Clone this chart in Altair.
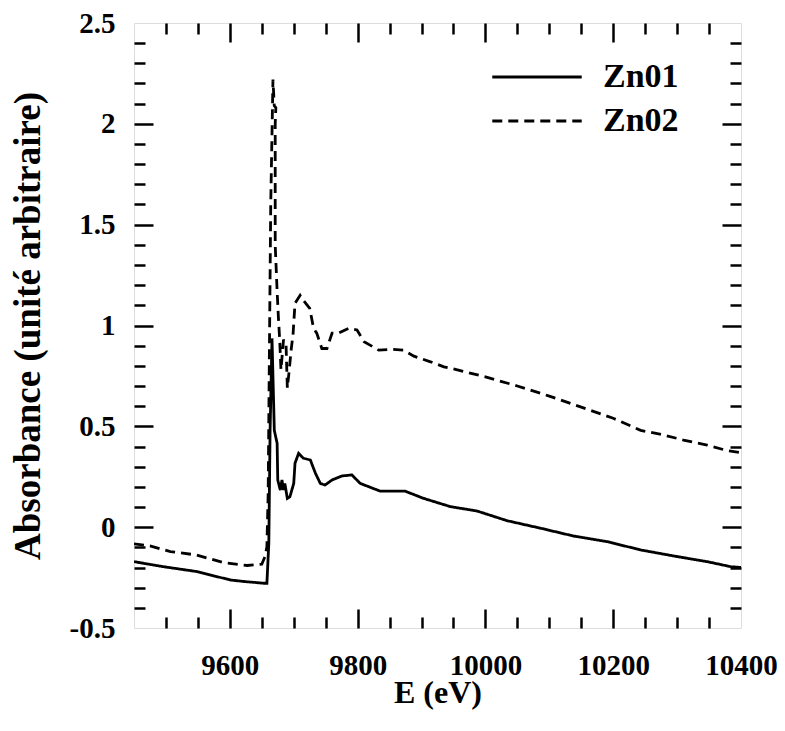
import altair as alt
import pandas as pd

# ---- data ----
zn01_E = [9450, 9496, 9548, 9601, 9624, 9653, 9658, 9661, 9663, 9666, 9669.6, 9674,
          9675, 9679, 9681.6, 9684, 9686, 9690, 9694, 9700, 9702, 9707.6, 9715, 9726,
          9734, 9741.6, 9749, 9760, 9775.6, 9791, 9804, 9835, 9874, 9903, 9945, 9987,
          10034, 10086, 10138, 10191, 10243, 10295, 10347, 10384, 10400]
zn01_A = [-0.171, -0.196, -0.22, -0.262, -0.27, -0.278, -0.278, -0.08, 0.48, 0.936, 0.48, 0.416,
          0.234, 0.184, 0.234, 0.184, 0.217, 0.143, 0.151, 0.217, 0.317, 0.366, 0.342, 0.333,
          0.267, 0.217, 0.209, 0.234, 0.254, 0.259, 0.217, 0.179, 0.179, 0.143, 0.102, 0.080,
          0.032, -0.005, -0.044, -0.072, -0.113, -0.143, -0.171, -0.196, -0.20]

zn02_E = [9450, 9475, 9507, 9548, 9590, 9627, 9650, 9655, 9658, 9660, 9662, 9664, 9667.5,
          9669.5, 9672, 9671, 9671, 9674, 9676, 9678, 9680, 9684, 9688, 9690, 9693, 9696,
          9699, 9702, 9710, 9715, 9725, 9731, 9736, 9744, 9752, 9760, 9770, 9786, 9799,
          9810, 9833, 9854, 9872, 9888, 9914, 9935, 9950, 10000, 10050, 10100, 10150,
          10200, 10243, 10279, 10310, 10347, 10379, 10400]
zn02_A = [-0.083, -0.093, -0.121, -0.138, -0.176, -0.19, -0.184, -0.146, -0.097, 0.17, 0.9, 1.6, 2.22,
          2.09, 2.08, 2.0, 1.4, 1.17, 1.04, 0.93, 0.78, 0.93, 0.90, 0.69, 0.78, 0.88,
          0.96, 1.11, 1.15, 1.125, 1.085, 0.987, 0.962, 0.886, 0.886, 0.962, 0.962, 0.986, 0.978,
          0.92, 0.878, 0.882, 0.878, 0.848, 0.82, 0.795, 0.785, 0.745, 0.70, 0.65, 0.595,
          0.54, 0.48, 0.457, 0.432, 0.407, 0.379, 0.37]

series_names = ["Zn01", "Zn02"]

x_labels = [9600, 9800, 10000, 10200, 10400]
x_major = [9600, 9800, 10000, 10200]
x_minor = [9500, 9550, 9650, 9700, 9750, 9850, 9900, 9950, 10050, 10100, 10150,
           10250, 10300, 10350]
y_labels = [-0.5, 0, 0.5, 1, 1.5, 2, 2.5]
y_major = [0, 0.5, 1, 1.5, 2]
y_minor = [-0.4, -0.3, -0.2, -0.1, 0.1, 0.2, 0.3, 0.4, 0.6, 0.7, 0.8, 0.9,
           1.1, 1.2, 1.3, 1.4, 1.6, 1.7, 1.8, 1.9, 2.1, 2.2, 2.3, 2.4]

rows = []
for name, es, vals in [("Zn01", zn01_E, zn01_A), ("Zn02", zn02_E, zn02_A)]:
    for i, (e, a) in enumerate(zip(es, vals)):
        rows.append({"E": e, "A": a, "series": name, "idx": i})
df = pd.DataFrame(rows)

FONT = "Liberation Serif"
W, H = 607, 605
xs = alt.Scale(domain=[9450, 10400], nice=False, zero=False)
ys = alt.Scale(domain=[-0.5, 2.5], nice=False, zero=False)

lines = alt.Chart(df).mark_line(color="black", strokeWidth=2.8, clip=True).encode(
    x=alt.X("E:Q", scale=xs, title="E (eV)",
            axis=alt.Axis(orient="bottom", values=x_labels, ticks=False, tickSize=0,
                          domain=False, grid=False, format="d",
                          labelFont=FONT, labelFontSize=29, labelFontWeight="bold",
                          labelColor="black", labelBaseline="middle", labelPadding=37,
                          labelFlush=False,
                          titleFont=FONT, titleFontSize=32, titleFontWeight="bold",
                          titleColor="black", titleY=64, titleBaseline="middle")),
    y=alt.Y("A:Q", scale=ys, title="Absorbance (unité arbitraire)",
            axis=alt.Axis(orient="left", values=y_labels, ticks=False, tickSize=0,
                          domain=False, grid=False, labelExpr="toString(datum.value)",
                          labelFont=FONT, labelFontSize=29, labelFontWeight="bold",
                          labelColor="black", labelPadding=19, labelFlush=False,
                          titleFont=FONT, titleFontSize=37, titleFontWeight="bold",
                          titleColor="black", titleX=-106, titleBaseline="middle",
                          titleAngle=270, titleLimit=700)),
    strokeDash=alt.StrokeDash("series:N",
                              scale=alt.Scale(domain=series_names, range=[[1, 0], [10, 6]]),
                              legend=alt.Legend(title=None, orient="none", legendX=386,
                                                legendY=37, symbolType="M-4,0H4",
                                                symbolSize=500, symbolStrokeWidth=2.8,
                                                symbolStrokeColor="black",
                                                labelFont=FONT, labelFontSize=34,
                                                labelFontWeight="bold", labelColor="black",
                                                labelOffset=49, rowPadding=10, padding=0)),
    order="idx:Q",
)


def tick_layer(x_orient, x_off, x_vals, y_orient, y_off, y_vals, size):
    return alt.Chart(df).mark_line(strokeOpacity=0).encode(
        x=alt.X("E:Q", scale=xs, title=None,
                axis=alt.Axis(orient=x_orient, offset=x_off, values=x_vals, tickSize=size,
                              tickWidth=2.5, tickColor="black", labels=False,
                              domain=False, grid=False)),
        y=alt.Y("A:Q", scale=ys, title=None,
                axis=alt.Axis(orient=y_orient, offset=y_off, values=y_vals, tickSize=size,
                              tickWidth=2.5, tickColor="black", labels=False,
                              domain=False, grid=False)),
        detail="series:N",
        order="idx:Q",
    )


MAJ, MIN = 19, 11
t1 = tick_layer("top", -H, x_major, "right", -W, y_major, MAJ)      # bottom & left, major
t2 = tick_layer("top", -H, x_minor, "right", -W, y_minor, MIN)      # bottom & left, minor
t3 = tick_layer("bottom", -H, x_major, "left", -W, y_major, MAJ)    # top & right, major
t4 = tick_layer("bottom", -H, x_minor, "left", -W, y_minor, MIN)    # top & right, minor

chart = alt.layer(lines, t1, t2, t3, t4).resolve_axis(
    x="independent", y="independent"
).properties(
    width=W, height=H,
    autosize=alt.AutoSizeParams(type="none"),
    padding={"left": 126, "top": 15, "right": 36, "bottom": 95},
).configure_view(stroke="black", strokeWidth=2.5).configure(background="white")

chart.save("out.html", embed_options={"renderer": "svg", "actions": False})
